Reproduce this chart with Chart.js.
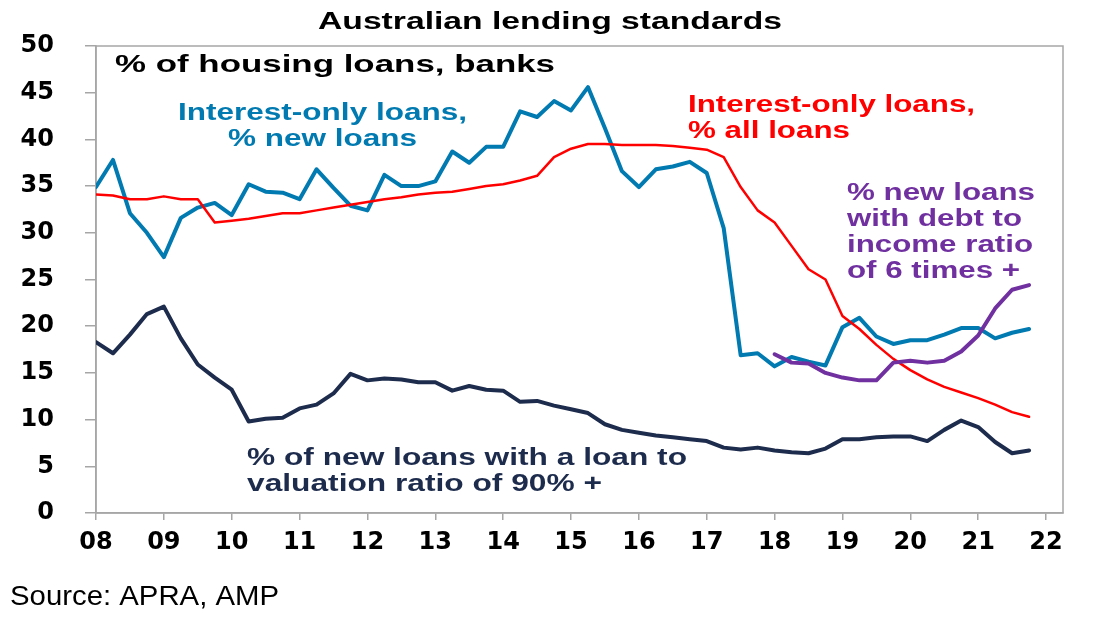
<!DOCTYPE html>
<html>
<head>
<meta charset="utf-8">
<script src="https://cdn.jsdelivr.net/npm/chart.js@4.4.1/dist/chart.umd.min.js"></script>
<style>
  html, body { margin: 0; padding: 0; background: #fff; }
  #chart { display: block; }
</style>
</head>
<body>
<canvas id="chart" width="1096" height="618"></canvas>
<script>
// quarterly data, Mar-08 .. Dec-21
const quarterYears = ['08', '09', '10', '11', '12', '13', '14', '15', '16', '17', '18', '19', '20', '21'];
const quarterMonths = ['Mar', 'Jun', 'Sep', 'Dec'];
const quarters = quarterYears.flatMap((y) => quarterMonths.map((m) => m + '-' + y));

const yearTickLabels = ['08', '09', '10', '11', '12', '13', '14', '15', '16', '17', '18', '19', '20', '21', '22'];

// interest-only loans, % new loans
const ioNewLoans = [
  34.9, 37.8, 32.1, 30.0, 27.4, 31.6, 32.7, 33.2, 31.9, 35.2,
  34.4, 34.3, 33.6, 36.8, 34.8, 32.9, 32.4, 36.2, 35.0, 35.0,
  35.5, 38.7, 37.5, 39.2, 39.2, 43.0, 42.4, 44.1, 43.1, 45.6,
  41.2, 36.6, 34.9, 36.8, 37.1, 37.6, 36.4, 30.5, 16.9, 17.1,
  15.7, 16.7, 16.2, 15.8, 19.9, 20.9, 18.9, 18.1, 18.5, 18.5,
  19.1, 19.8, 19.8, 18.7, 19.3, 19.7,
];

// interest-only loans, % all loans
const ioAllLoans = [
  34.1, 34.0, 33.6, 33.6, 33.9, 33.6, 33.6, 31.1, 31.3, 31.5,
  31.8, 32.1, 32.1, 32.4, 32.7, 33.0, 33.3, 33.6, 33.8, 34.1,
  34.3, 34.4, 34.7, 35.0, 35.2, 35.6, 36.1, 38.1, 39.0, 39.5,
  39.5, 39.4, 39.4, 39.4, 39.3, 39.1, 38.9, 38.1, 34.9, 32.4,
  31.1, 28.6, 26.1, 25.0, 21.1, 19.7, 18.0, 16.5, 15.3, 14.3,
  13.5, 12.9, 12.3, 11.6, 10.8, 10.3,
];

// % of new loans with LVR 90% +
const lvr90Plus = [
  18.3, 17.1, 19.1, 21.3, 22.1, 18.7, 15.9, 14.5, 13.2, 9.8,
  10.1, 10.2, 11.2, 11.6, 12.8, 14.9, 14.2, 14.4, 14.3, 14.0,
  14.0, 13.1, 13.6, 13.2, 13.1, 11.9, 12.0, 11.5, 11.1, 10.7,
  9.5, 8.9, 8.6, 8.3, 8.1, 7.9, 7.7, 7.0, 6.8, 7.0,
  6.7, 6.5, 6.4, 6.9, 7.9, 7.9, 8.1, 8.2, 8.2, 7.7,
  8.9, 9.9, 9.2, 7.6, 6.4, 6.7,
];

// % new loans with DTI of 6 times +, from Mar-18
const dtiStart = quarters.indexOf('Mar-18');
const dti6Plus = [17.0, 16.1, 16.0, 15.0, 14.5, 14.2, 14.2, 16.1, 16.3, 16.1, 16.3, 17.3, 19.0, 21.9, 23.9, 24.4];

const BLUE = 'rgb(0,122,176)';
const RED = 'rgb(255,0,0)';
const NAVY = 'rgb(29,43,76)';
const PURPLE = 'rgb(112,48,160)';
const AXIS_GREY = '#a6a6a6';

const toPoints = (values, start = 0) => values.map((v, i) => ({ x: start + i, y: v }));

// text drawn stretched to the widths seen in the original
function stretchText(ctx, str, left, baseline, width, font, color) {
  ctx.save();
  ctx.font = font;
  ctx.fillStyle = color;
  ctx.textAlign = 'left';
  ctx.textBaseline = 'alphabetic';
  const w = ctx.measureText(str).width;
  ctx.translate(left, baseline);
  ctx.scale(width / w, 1);
  ctx.fillText(str, 0, 0);
  ctx.restore();
}

const B23 = 'bold 23px "Liberation Sans", Arial, sans-serif';

const annotations = {
  id: 'annotations',
  beforeDatasetsDraw(chart) {
    const { ctx, chartArea: a } = chart;
    ctx.save();
    ctx.strokeStyle = AXIS_GREY;
    ctx.lineWidth = 1.5;
    ctx.strokeRect(a.left, a.top, a.right - a.left, a.bottom - a.top);
    ctx.restore();
  },
  afterDraw(chart) {
    const ctx = chart.ctx;
    stretchText(ctx, 'Australian lending standards', 318, 29, 464, B23, '#000');
    stretchText(ctx, '% of housing loans, banks', 115, 72, 440, 'bold 24px "Liberation Sans", Arial, sans-serif', '#000');

    stretchText(ctx, 'Interest-only loans,', 178, 120, 289, B23, BLUE);
    stretchText(ctx, '% new loans', 228, 146, 189, B23, BLUE);

    stretchText(ctx, 'Interest-only loans,', 688, 112, 287, B23, RED);
    stretchText(ctx, '% all loans', 688, 138, 162, B23, RED);

    stretchText(ctx, '% new loans', 847, 200, 188, B23, PURPLE);
    stretchText(ctx, 'with debt to', 847, 226, 175, B23, PURPLE);
    stretchText(ctx, 'income ratio', 847, 252, 186, B23, PURPLE);
    stretchText(ctx, 'of 6 times +', 847, 278, 173, B23, PURPLE);

    stretchText(ctx, '% of new loans with a loan to', 247, 465, 440, B23, NAVY);
    stretchText(ctx, 'valuation ratio of 90% +', 247, 491, 355, B23, NAVY);

    stretchText(ctx, 'Source: APRA, AMP', 10, 605, 269, '28px "Liberation Sans", Arial, sans-serif', '#000');
  },
};

const lineStyle = {
  pointRadius: 0,
  tension: 0,
  fill: false,
  borderJoinStyle: 'round',
  borderCapStyle: 'round',
};

new Chart(document.getElementById('chart'), {
  type: 'line',
  data: {
    datasets: [
      { label: '% new loans with DTI 6x +', data: toPoints(dti6Plus, dtiStart), borderColor: PURPLE, borderWidth: 4, order: 1, ...lineStyle },
      { label: 'Interest-only loans, % all loans', data: toPoints(ioAllLoans), borderColor: RED, borderWidth: 2.5, order: 2, ...lineStyle },
      { label: 'Interest-only loans, % new loans', data: toPoints(ioNewLoans), borderColor: BLUE, borderWidth: 4, order: 3, ...lineStyle },
      { label: '% of new loans with LVR 90% +', data: toPoints(lvr90Plus), borderColor: NAVY, borderWidth: 4, order: 4, ...lineStyle },
    ],
  },
  options: {
    responsive: false,
    animation: false,
    events: [],
    layout: { padding: { left: 0, right: 33, top: 46, bottom: 40 } },
    plugins: {
      legend: { display: false },
      tooltip: { enabled: false },
      title: { display: false },
    },
    scales: {
      x: {
        type: 'linear',
        min: 0,
        max: quarters.length + 1,
        afterBuildTicks: (axis) => {
          axis.ticks = yearTickLabels.map((_, i) => ({ value: i * quarterMonths.length }));
        },
        afterFit: (axis) => { axis.height = 65; },
        grid: { drawOnChartArea: false, drawTicks: true, tickLength: 7, color: AXIS_GREY, lineWidth: 1.5 },
        border: { display: true, color: AXIS_GREY, width: 1.5 },
        ticks: {
          autoSkip: false,
          maxRotation: 0,
          padding: 8,
          color: '#000',
          font: { family: '"DejaVu Sans", sans-serif', size: 24, weight: 'bold' },
          callback: (value) => yearTickLabels[value / quarterMonths.length],
        },
      },
      y: {
        min: 0,
        max: 50,
        afterFit: (axis) => { axis.width = 96; },
        grid: { drawOnChartArea: false, drawTicks: true, tickLength: 11, color: AXIS_GREY, lineWidth: 1.5 },
        border: { display: true, color: AXIS_GREY, width: 1.5 },
        ticks: {
          stepSize: 5,
          padding: 31,
          color: '#000',
          font: { family: '"DejaVu Sans", sans-serif', size: 24, weight: 'bold' },
        },
      },
    },
  },
  plugins: [annotations],
});
</script>
</body>
</html>
